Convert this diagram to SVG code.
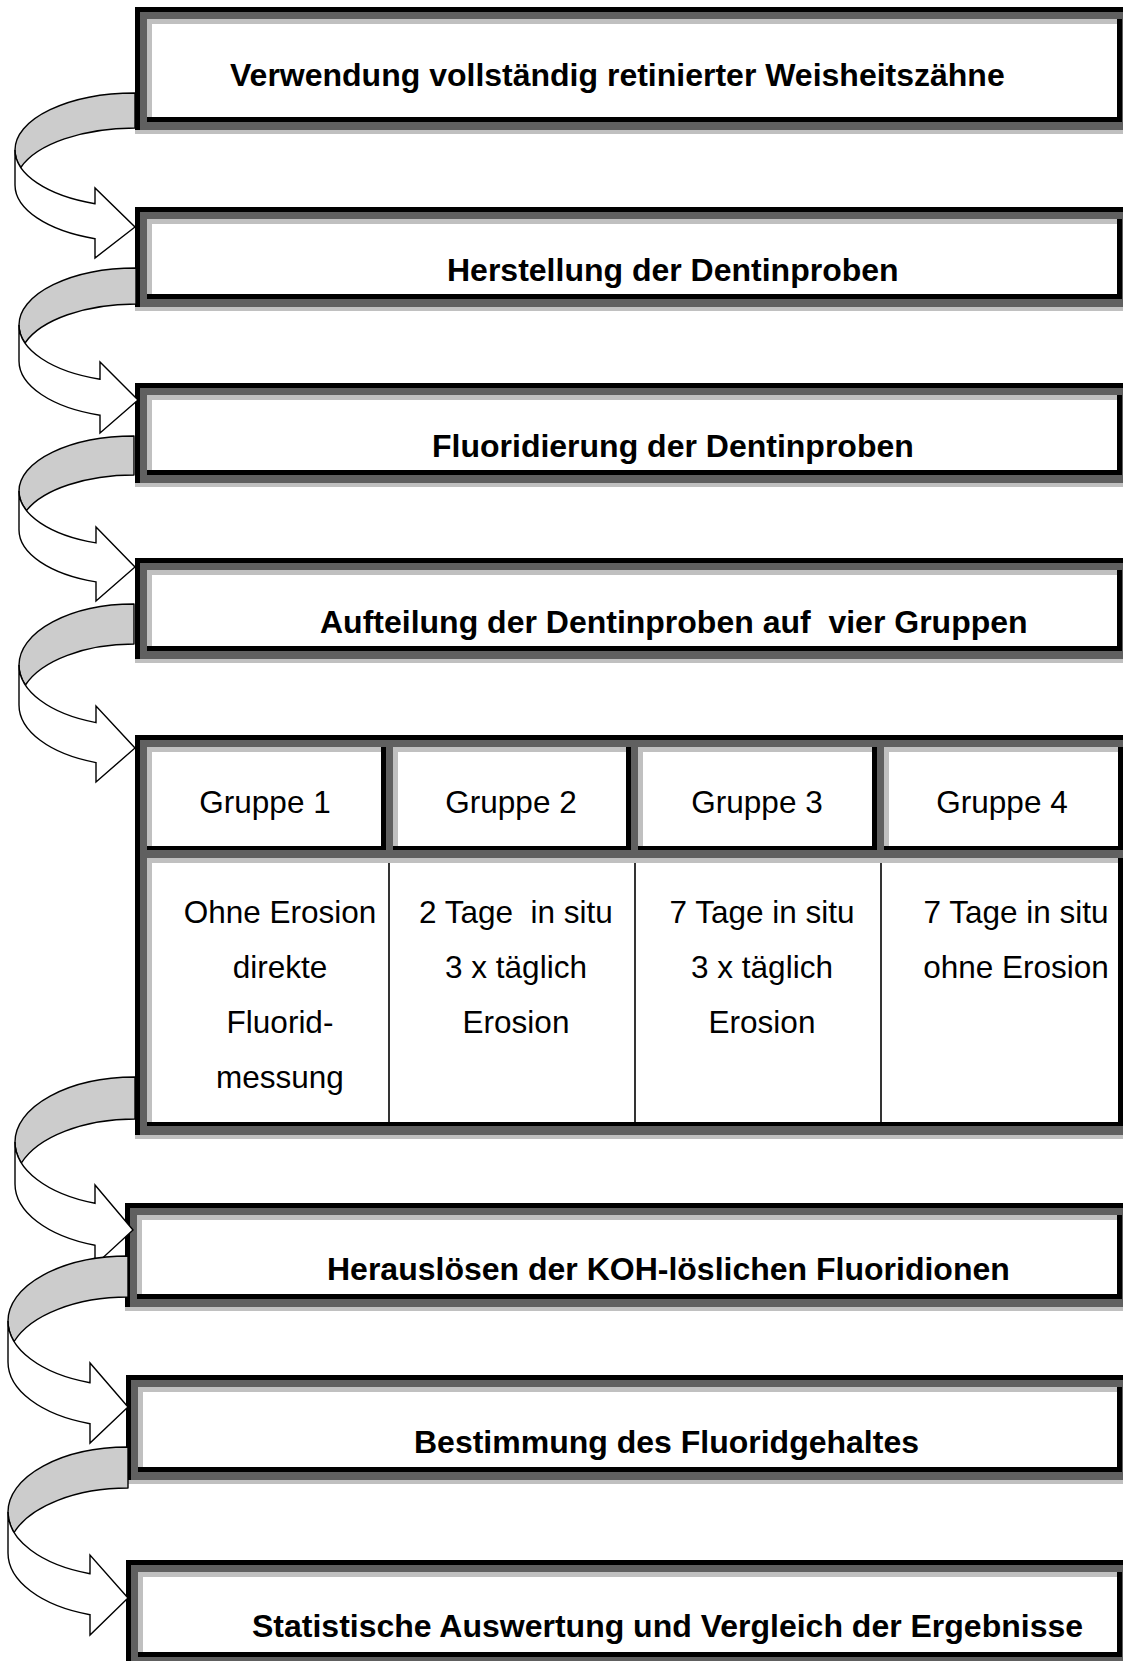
<svg xmlns="http://www.w3.org/2000/svg" width="1123" height="1661" viewBox="0 0 1123 1661">
<style>
.k{fill:#000}
.d{fill:#606060}
.l{fill:#c0c0c0}
.w{fill:#fff}
.t{font-family:"Liberation Sans",Arial,sans-serif;font-weight:bold;font-size:32px;fill:#000}
.r{font-family:"Liberation Sans",Arial,sans-serif;font-size:31.5px;fill:#000;text-anchor:middle}
.back{fill:#cccccc;stroke:#000;stroke-width:1.4;stroke-linejoin:round}
.front{fill:#fff;stroke:#000;stroke-width:1.4;stroke-linejoin:miter}
.sep{stroke:#000;stroke-width:1.6}
</style>
<rect x="0" y="0" width="1123" height="1661" fill="#fff"/>

<g id="box1">
<rect class="k" x="135" y="7" width="995" height="123"/>
<rect class="d" x="140" y="12" width="990" height="118"/>
<rect class="k" x="147" y="19" width="975" height="103"/>
<rect class="l" x="147" y="19" width="970" height="98"/>
<rect class="w" x="152" y="24" width="965" height="93"/>
<rect class="l" x="135" y="130" width="995" height="4"/>
<text class="t" x="230" y="86">Verwendung vollständig retinierter Weisheitszähne</text>
</g>

<g id="box2">
<rect class="k" x="135" y="207" width="995" height="100"/>
<rect class="d" x="140" y="212" width="990" height="95"/>
<rect class="k" x="147" y="219" width="975" height="80"/>
<rect class="l" x="147" y="219" width="970" height="75"/>
<rect class="w" x="152" y="224" width="965" height="70"/>
<rect class="l" x="135" y="307" width="995" height="4"/>
<text class="t" x="447" y="281">Herstellung der Dentinproben</text>
</g>

<g id="box3">
<rect class="k" x="135" y="383" width="995" height="100"/>
<rect class="d" x="140" y="388" width="990" height="95"/>
<rect class="k" x="147" y="395" width="975" height="80"/>
<rect class="l" x="147" y="395" width="970" height="75"/>
<rect class="w" x="152" y="400" width="965" height="70"/>
<rect class="l" x="135" y="483" width="995" height="4"/>
<text class="t" x="432" y="457">Fluoridierung der Dentinproben</text>
</g>

<g id="box4">
<rect class="k" x="135" y="558" width="995" height="101"/>
<rect class="d" x="140" y="563" width="990" height="96"/>
<rect class="k" x="147" y="570" width="975" height="81"/>
<rect class="l" x="147" y="570" width="970" height="76"/>
<rect class="w" x="152" y="575" width="965" height="71"/>
<rect class="l" x="135" y="659" width="995" height="4"/>
<text class="t" x="320" y="633" xml:space="preserve">Aufteilung der Dentinproben auf  vier Gruppen</text>
</g>

<g id="table">
<rect class="k" x="135" y="735" width="995" height="400"/>
<rect class="d" x="140" y="740" width="990" height="395"/>
<rect class="k" x="147" y="747" width="239" height="103"/>
<rect class="l" x="147" y="747" width="234" height="99"/>
<rect class="w" x="152" y="752" width="229" height="94"/>
<rect class="k" x="393" y="747" width="238" height="103"/>
<rect class="l" x="393" y="747" width="233" height="99"/>
<rect class="w" x="398" y="752" width="228" height="94"/>
<rect class="k" x="638" y="747" width="239" height="103"/>
<rect class="l" x="638" y="747" width="234" height="99"/>
<rect class="w" x="643" y="752" width="229" height="94"/>
<rect class="k" x="884" y="747" width="239" height="103"/>
<rect class="l" x="884" y="747" width="234" height="99"/>
<rect class="w" x="889" y="752" width="229" height="94"/>
<rect class="k" x="147" y="858" width="976" height="268"/>
<rect class="l" x="147" y="858" width="971" height="264"/>
<rect class="w" x="152" y="863" width="966" height="259"/>
<line class="sep" x1="389" y1="863" x2="389" y2="1122"/>
<line class="sep" x1="635" y1="863" x2="635" y2="1122"/>
<line class="sep" x1="881" y1="863" x2="881" y2="1122"/>
<rect class="l" x="135" y="1135" width="995" height="4"/>
<text class="r" x="265" y="813">Gruppe 1</text>
<text class="r" x="511" y="813">Gruppe 2</text>
<text class="r" x="757" y="813">Gruppe 3</text>
<text class="r" x="1002" y="813">Gruppe 4</text>
<text class="r" x="280" y="923">Ohne Erosion</text>
<text class="r" x="280" y="978">direkte</text>
<text class="r" x="280" y="1033">Fluorid-</text>
<text class="r" x="280" y="1088">messung</text>
<text class="r" x="516" y="923" xml:space="preserve">2 Tage  in situ</text>
<text class="r" x="516" y="978">3 x täglich</text>
<text class="r" x="516" y="1033">Erosion</text>
<text class="r" x="762" y="923">7 Tage in situ</text>
<text class="r" x="762" y="978">3 x täglich</text>
<text class="r" x="762" y="1033">Erosion</text>
<text class="r" x="1016" y="923">7 Tage in situ</text>
<text class="r" x="1016" y="978">ohne Erosion</text>
</g>

<g id="box6">
<rect class="k" x="125" y="1203" width="1005" height="104"/>
<rect class="d" x="130" y="1208" width="1000" height="99"/>
<rect class="k" x="137" y="1215" width="985" height="84"/>
<rect class="l" x="137" y="1215" width="980" height="79"/>
<rect class="w" x="142" y="1220" width="975" height="74"/>
<rect class="l" x="125" y="1307" width="1005" height="4"/>
<text class="t" x="327" y="1280">Herauslösen der KOH-löslichen Fluoridionen</text>
</g>

<g id="box7">
<rect class="k" x="126" y="1375" width="1004" height="105"/>
<rect class="d" x="131" y="1380" width="999" height="100"/>
<rect class="k" x="138" y="1387" width="984" height="85"/>
<rect class="l" x="138" y="1387" width="979" height="80"/>
<rect class="w" x="143" y="1392" width="974" height="75"/>
<rect class="l" x="126" y="1480" width="1004" height="4"/>
<text class="t" x="414" y="1453">Bestimmung des Fluoridgehaltes</text>
</g>

<g id="box8">
<rect class="k" x="126" y="1560" width="1004" height="105"/>
<rect class="d" x="131" y="1565" width="999" height="100"/>
<rect class="k" x="138" y="1572" width="984" height="85"/>
<rect class="l" x="138" y="1572" width="979" height="80"/>
<rect class="w" x="143" y="1577" width="974" height="75"/>
<text class="t" x="252" y="1637">Statistische Auswertung und Vergleich der Ergebnisse</text>
</g>

<g id="connectors">
<g id="arrow1">
<path class="back" d="M135,93 A120,57 0 0 0 15,150 A120,57 0 0 0 20.8,167.5 A120,57 0 0 1 135,128 Z"/>
<path class="front" d="M15,150 A120,57 0 0 0 95,203.7 L95,188 L135,227 L95,258 L95,238.7 A120,57 0 0 1 15,185 Z"/>
</g>
<g id="arrow2">
<path class="back" d="M136,268 A117,57 0 0 0 19,325 A117,57 0 0 0 25,343 A117,57 0 0 1 136,304 Z"/>
<path class="front" d="M19,325 A117,57 0 0 0 100,379.2 L100,362 L138,400 L100,433 L100,415.2 A117,57 0 0 1 19,361 Z"/>
</g>
<g id="arrow3">
<path class="back" d="M134,436 A115,55 0 0 0 19,491 A115,55 0 0 0 26.5,510.5 A115,55 0 0 1 134,475 Z"/>
<path class="front" d="M19,491 A115,55 0 0 0 96,542.9 L96,527 L135,567 L96,601 L96,581.9 A115,55 0 0 1 19,530 Z"/>
</g>
<g id="arrow4">
<path class="back" d="M134,604 A115,61 0 0 0 19,665 A115,61 0 0 0 25.4,685 A115,61 0 0 1 134,644 Z"/>
<path class="front" d="M19,665 A115,61 0 0 0 96,722.6 L96,706 L135,748 L96,782 L96,762.6 A115,61 0 0 1 19,705 Z"/>
</g>
<g id="arrow5">
<path class="back" d="M135,1077 A120,65 0 0 0 15,1142 A120,65 0 0 0 21.4,1163 A120,65 0 0 1 135,1119 Z"/>
<path class="front" d="M15,1142 A120,65 0 0 0 95,1203.3 L95,1185 L133,1230 L95,1265 L95,1245.3 A120,65 0 0 1 15,1184 Z"/>
</g>
<g id="arrow6">
<path class="back" d="M128,1256 A120,65 0 0 0 8,1321 A120,65 0 0 0 14.1,1341.5 A120,65 0 0 1 128,1297 Z"/>
<path class="front" d="M8,1321 A120,65 0 0 0 90,1382.7 L90,1363 L128,1407 L90,1443 L90,1423.7 A120,65 0 0 1 8,1362 Z"/>
</g>
<g id="arrow7">
<path class="back" d="M128,1447 A120,65 0 0 0 8,1512 A120,65 0 0 0 14.1,1532.5 A120,65 0 0 1 128,1488 Z"/>
<path class="front" d="M8,1512 A120,65 0 0 0 90,1573.7 L90,1555 L128,1598 L90,1635 L90,1614.7 A120,65 0 0 1 8,1553 Z"/>
</g>
</g>
</svg>
